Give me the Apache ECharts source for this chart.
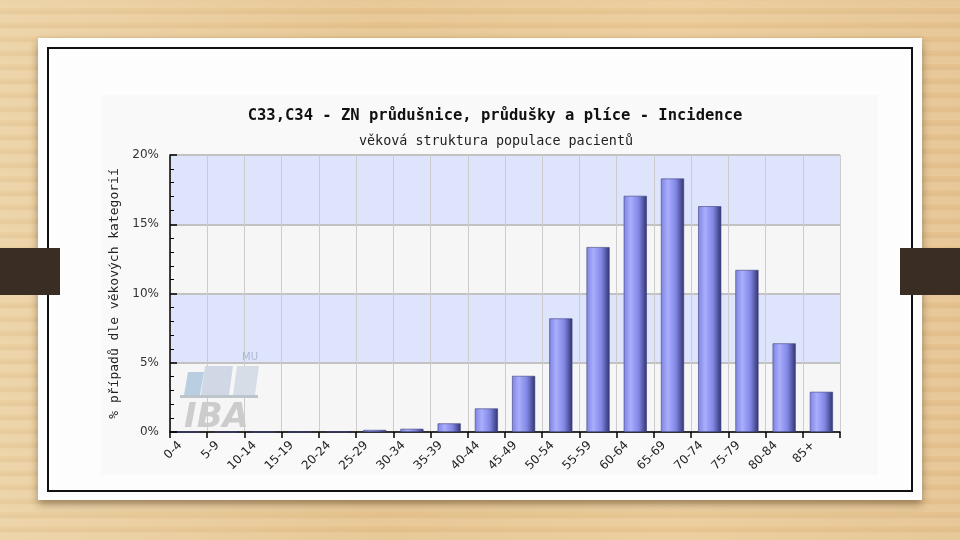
<!DOCTYPE html>
<html>
<head>
<meta charset="utf-8">
<script src="https://cdn.jsdelivr.net/npm/echarts@6/dist/echarts.min.js"></script>
<style>
  html, body { margin: 0; padding: 0; }
  body {
    width: 960px; height: 540px; overflow: hidden; position: relative;
    background:
      repeating-linear-gradient(0deg, rgba(255,255,255,0.08) 0px, rgba(255,255,255,0.08) 7px, rgba(160,110,50,0.07) 9px, rgba(255,255,255,0) 14px),
      linear-gradient(90deg, #ecd1a3, #e6c48f 40%, #ebcb98 70%, #e5c390);
  }
  .tab { position: absolute; top: 248px; height: 47px; width: 60px; background: #3a2d24; z-index: 5; }
  .card {
    position: absolute; left: 38px; top: 38px; width: 884px; height: 462px;
    background: #fdfdfd; box-shadow: 0 4px 8px rgba(60,40,20,0.45);
  }
  .frame {
    position: absolute; left: 47px; top: 47px; width: 862px; height: 441px;
    border: 2px solid #111;
  }
  .panel {
    position: absolute; left: 101px; top: 95px; width: 777px; height: 380px;
    background: #f9f9f9;
  }
  #chart { position: absolute; left: 0; top: 0; width: 960px; height: 540px; }
</style>
</head>
<body>
<div class="card"></div>
<div class="frame"></div>
<div class="panel"></div>
<div id="chart"></div>
<div class="tab" style="left:0"></div>
<div class="tab" style="left:900px"></div>
<script>
// věkové kategorie a podíl případů (%)
const ageGroups = ["0-4", "5-9", "10-14", "15-19", "20-24", "25-29", "30-34", "35-39", "40-44",
  "45-49", "50-54", "55-59", "60-64", "65-69", "70-74", "75-79", "80-84", "85+"];
const shareValues = [0, 0, 0, 0, 0.02, 0.15, 0.23, 0.62, 1.7, 4.05, 8.2, 13.35, 17.05, 18.3, 16.3, 11.7, 6.4, 2.9];
const yTicks = [0, 5, 10, 15, 20];

const chart = echarts.init(document.getElementById('chart'));

const option = {
  animation: false,
  title: [{
    text: 'C33,C34 - ZN průdušnice, průdušky a plíce - Incidence',
    left: 490, top: 103, textAlign: 'center',
    textStyle: { fontFamily: 'DejaVu Sans Mono', fontSize: 15.5, fontWeight: 'bold', color: '#111' }
  }, {
    text: 'věková struktura populace pacientů',
    left: 491, top: 130, textAlign: 'center',
    textStyle: { fontFamily: 'DejaVu Sans Mono', fontSize: 13.4, fontWeight: 'normal', color: '#222' }
  }],
  grid: { left: 170, right: 120, top: 155, bottom: 108 },
  xAxis: {
    type: 'category',
    data: ageGroups,
    axisLine: { lineStyle: { color: '#000', width: 1.5 } },
    axisTick: { show: true, length: 6, lineStyle: { color: '#000', width: 1.5 } },
    splitLine: { show: true, interval: 0, lineStyle: { color: '#cccccc', width: 1 } },
    axisLabel: {
      interval: 0, rotate: 45, margin: 3, padding: [0, 12, 0, 0],
      fontFamily: 'DejaVu Sans', fontSize: 12, color: '#222'
    }
  },
  yAxis: {
    type: 'value',
    min: yTicks[0], max: yTicks[yTicks.length - 1], interval: 5,
    name: '% případů dle věkových kategorií',
    nameLocation: 'middle', nameGap: 48, nameRotate: 90,
    nameTextStyle: { fontFamily: 'DejaVu Sans Mono', fontSize: 13, color: '#222' },
    axisLine: { show: true, lineStyle: { color: '#000', width: 1.5 } },
    axisTick: { show: true, inside: true, length: 7, lineStyle: { color: '#000', width: 1.5 } },
    minorTick: { show: true, splitNumber: 5, length: 4, lineStyle: { color: '#000', width: 1 } },
    axisLabel: {
      margin: 11, fontFamily: 'DejaVu Sans', fontSize: 12, color: '#333',
      formatter: v => v + '%'
    },
    splitLine: { show: true, lineStyle: { color: '#c2c2c2', width: 2 } },
    splitArea: { show: true, areaStyle: { color: ['#f6f6f6', '#dde4fb'] } }
  },
  graphic: [
    { type: 'polygon', z: 1, shape: { points: [[188, 372], [204, 372], [200, 395], [184, 395]] }, style: { fill: '#b9cfe1' } },
    { type: 'polygon', z: 1, shape: { points: [[205, 366], [233, 366], [229, 395], [201, 395]] }, style: { fill: '#cfd8e4' } },
    { type: 'polygon', z: 1, shape: { points: [[237, 366], [259, 366], [255, 395], [233, 395]] }, style: { fill: '#d7dde6' } },
    { type: 'rect', z: 1, shape: { x: 180, y: 395, width: 78, height: 3 }, style: { fill: '#bcc4cc' } },
    { type: 'text', z: 1, left: 184, top: 401, style: { text: 'IBA', font: 'italic bold 34px "DejaVu Sans"', fill: '#cccccc' } },
    { type: 'text', z: 1, left: 242, top: 352, style: { text: 'MU', font: '10px "DejaVu Sans"', fill: '#aeb8d2' } }
  ],
  series: [{
    type: 'bar',
    data: shareValues,
    barWidth: '62%',
    z: 3,
    itemStyle: {
      borderColor: '#3c3f7e', borderWidth: 0.6,
      color: {
        type: 'linear', x: 0, y: 0, x2: 1, y2: 0,
        colorStops: [
          { offset: 0, color: '#7e84e2' },
          { offset: 0.3, color: '#a9aefd' },
          { offset: 0.65, color: '#8186e4' },
          { offset: 1, color: '#2f336f' }
        ]
      }
    }
  }]
};

chart.setOption(option);
</script>
</body>
</html>
